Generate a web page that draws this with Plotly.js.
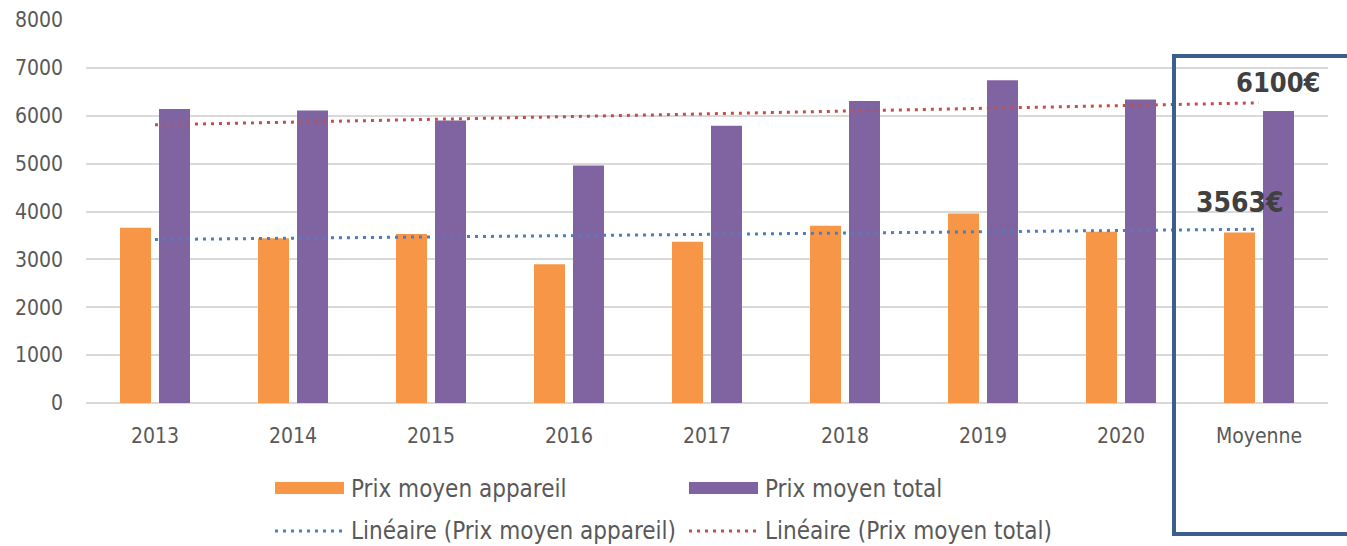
<!DOCTYPE html>
<html>
<head>
<meta charset="utf-8">
<script src="https://cdn.plot.ly/plotly-3.0.1.min.js"></script>
<style>html,body{margin:0;padding:0;background:#fff;}#chart{width:1347px;height:546px;}</style>
</head>
<body>
<div id="chart"></div>
<script>
const categories = ['2013','2014','2015','2016','2017','2018','2019','2020','Moyenne'];
const prixAppareil = [3660, 3440, 3530, 2900, 3370, 3700, 3960, 3575, 3563];
const prixTotal = [6140, 6110, 5900, 4960, 5790, 6310, 6740, 6340, 6100];
const trendX = ['2013', 'Moyenne'];
const trendAppareil = [3415, 3630];
const trendTotal = [5810, 6270];
const yTicks = [0,1000,2000,3000,4000,5000,6000,7000,8000];
const legendNames = ['Prix moyen appareil','Prix moyen total','Linéaire (Prix moyen appareil)','Linéaire (Prix moyen total)'];
const labelTotal = '6100€';
const labelAppareil = '3563€';

const FONT = '"DejaVu Sans Condensed", "DejaVu Sans", sans-serif';
const ORANGE = '#F79646', PURPLE = '#8064A2', BLUE = '#4A7EC0', RED = '#C0504D';

const W = 1347, H = 546, L = 86, R = 19, T = 20, B = 143;
const pw = W - L - R, ph = H - T - B;
const px = x => (x - L) / pw;
const py = y => (H - B - y) / ph;

const traces = [
  {type:'bar', x:categories, y:prixAppareil, name:legendNames[0], marker:{color:ORANGE}, showlegend:false, hoverinfo:'y'},
  {type:'bar', x:categories, y:prixTotal, name:legendNames[1], marker:{color:PURPLE}, showlegend:false, hoverinfo:'y'},
  {type:'scatter', mode:'lines', x:trendX, y:trendAppareil, name:legendNames[2], line:{color:BLUE, width:3, dash:'3px,5px'}, showlegend:false},
  {type:'scatter', mode:'lines', x:trendX, y:trendTotal, name:legendNames[3], line:{color:RED, width:3, dash:'3px,5px'}, showlegend:false}
];

const shapes = [
  {type:'rect', xref:'paper', yref:'paper', x0:px(1174), x1:px(1360), y0:py(534), y1:py(56), line:{color:'#3A5F8F', width:4}, fillcolor:'rgba(0,0,0,0)'},
  {type:'rect', xref:'paper', yref:'paper', x0:px(275), x1:px(344), y0:py(494), y1:py(482), line:{width:0}, fillcolor:ORANGE},
  {type:'rect', xref:'paper', yref:'paper', x0:px(689), x1:px(758), y0:py(494), y1:py(482), line:{width:0}, fillcolor:PURPLE},
  {type:'line', xref:'paper', yref:'paper', x0:px(275), x1:px(344), y0:py(531), y1:py(531), line:{color:BLUE, width:3, dash:'3px,5px'}},
  {type:'line', xref:'paper', yref:'paper', x0:px(689), x1:px(758), y0:py(531), y1:py(531), line:{color:RED, width:3, dash:'3px,5px'}}
];

const legFont = {family:FONT, size:24, color:'#595959'};
const annotations = [
  {xref:'paper', yref:'paper', x:px(349), y:py(489), text:legendNames[0], showarrow:false, xanchor:'left', yanchor:'middle', font:legFont},
  {xref:'paper', yref:'paper', x:px(763), y:py(489), text:legendNames[1], showarrow:false, xanchor:'left', yanchor:'middle', font:legFont},
  {xref:'paper', yref:'paper', x:px(349), y:py(531), text:legendNames[2], showarrow:false, xanchor:'left', yanchor:'middle', font:legFont},
  {xref:'paper', yref:'paper', x:px(763), y:py(531), text:legendNames[3], showarrow:false, xanchor:'left', yanchor:'middle', font:legFont},
  {xref:'paper', yref:'paper', x:px(1278), y:py(82), text:'<b>'+labelTotal+'</b>', showarrow:false, xanchor:'center', yanchor:'middle', font:{family:FONT, size:27, color:'#404040'}},
  {xref:'paper', yref:'paper', x:px(1240), y:py(203), text:'<b>'+labelAppareil+'</b>', showarrow:false, xanchor:'center', yanchor:'middle', font:{family:FONT, size:28, color:'#404040'}}
];

const layout = {
  width:W, height:H,
  margin:{l:L, r:R, t:T, b:B, pad:0},
  paper_bgcolor:'#fff', plot_bgcolor:'#fff',
  barmode:'group', bargap:0.435, bargroupgap:0.205,
  showlegend:false,
  font:{family:FONT, size:21, color:'#595959'},
  xaxis:{type:'category', categoryarray:categories, showgrid:false, showline:false, zeroline:false, ticks:'', ticklabelstandoff:18, tickfont:{family:FONT, size:21, color:'#595959'}, fixedrange:true},
  yaxis:{range:[0,8000], tickvals:yTicks, ticktext:yTicks.map(String), showgrid:true, gridcolor:'#D9D9D9', gridwidth:2, zeroline:true, zerolinecolor:'#D9D9D9', zerolinewidth:2, showline:false, ticks:'', ticklabelstandoff:22, tickfont:{family:FONT, size:21, color:'#595959'}, fixedrange:true},
  shapes:shapes,
  annotations:annotations
};

Plotly.newPlot('chart', traces, layout, {staticPlot:true, displayModeBar:false});
</script>
</body>
</html>
